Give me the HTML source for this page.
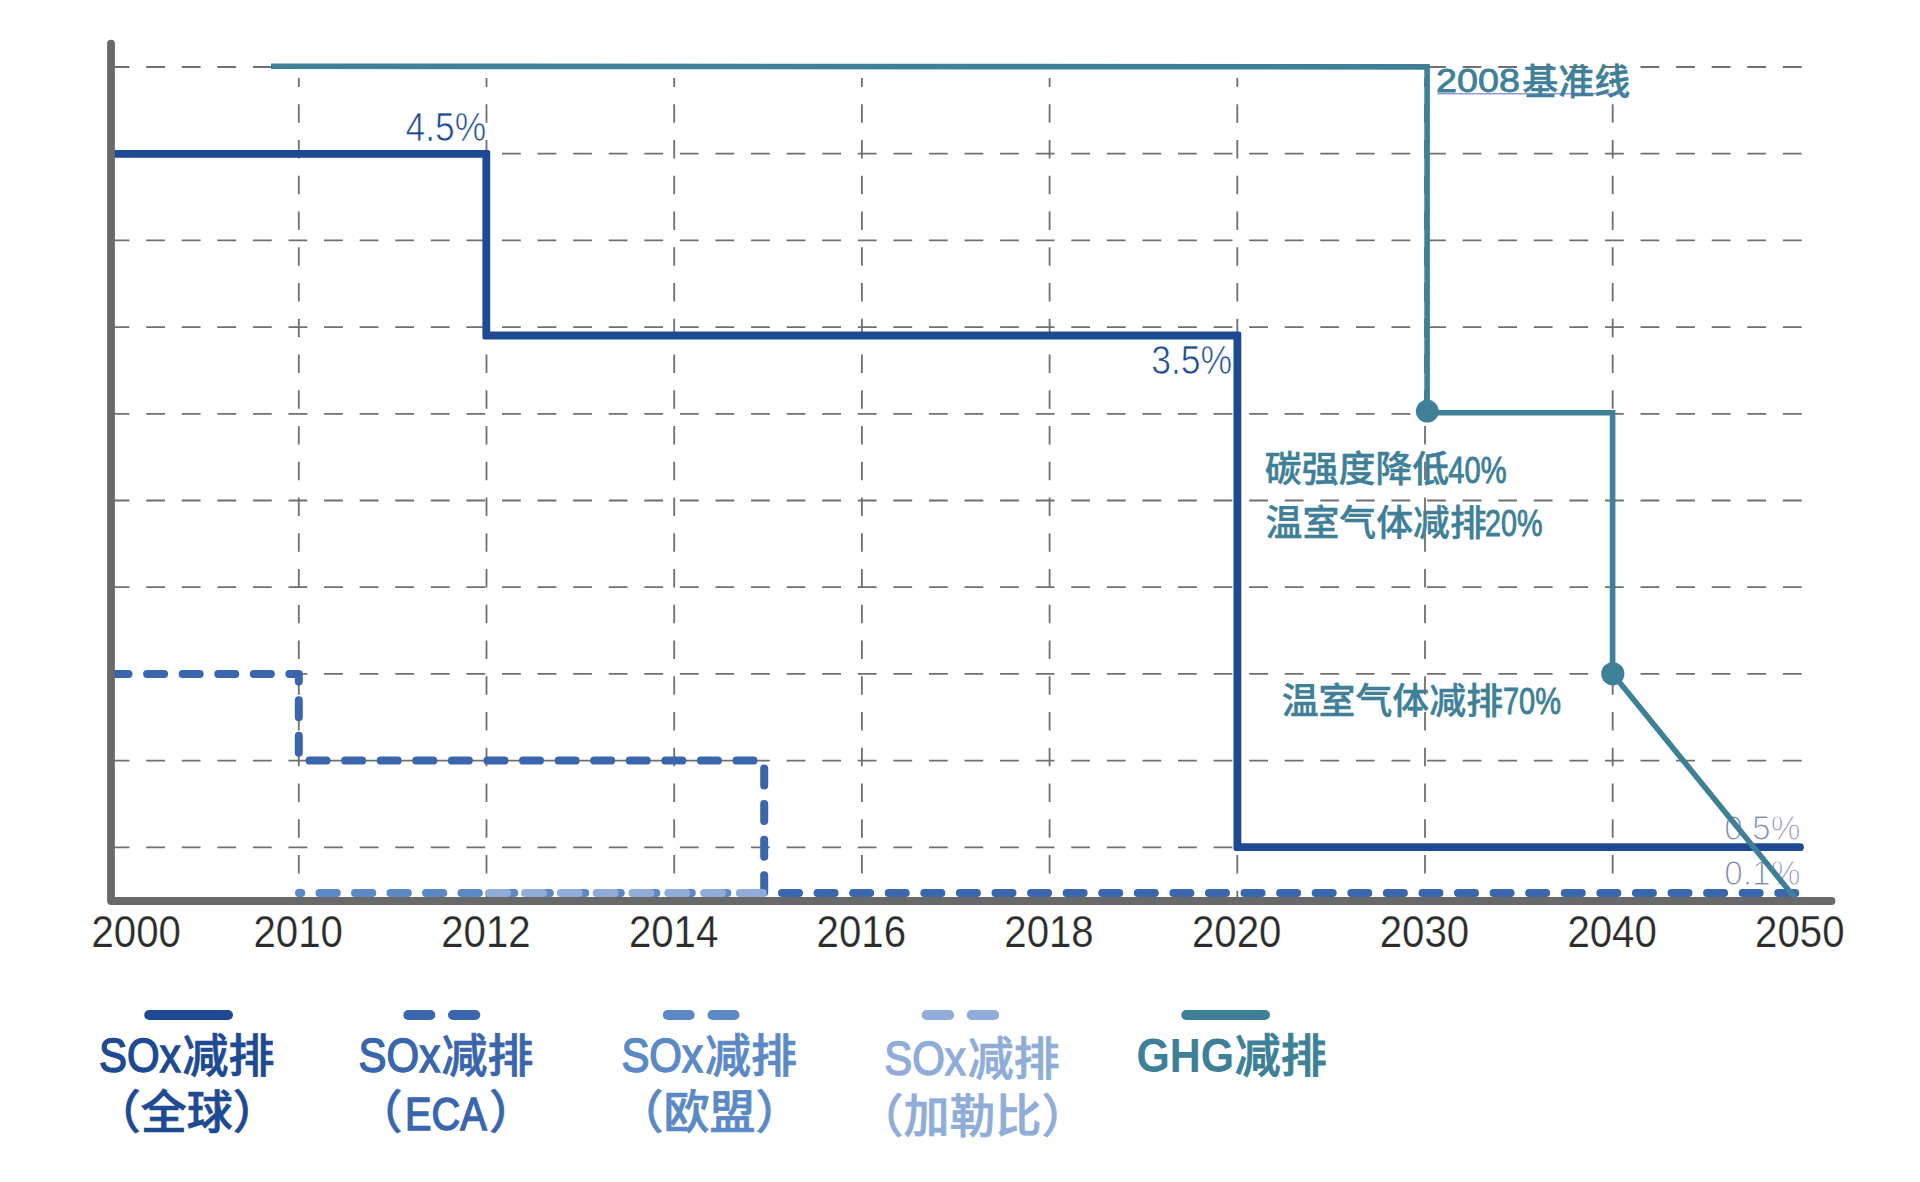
<!DOCTYPE html>
<html lang="zh-CN"><head><meta charset="utf-8"><title>SOx / GHG 减排路线</title>
<style>html,body{margin:0;padding:0;background:#fff;}body{width:1920px;height:1182px;overflow:hidden;position:relative;}svg{position:absolute;left:0;top:0;display:block;}text{font-family:"Liberation Sans","Noto Sans CJK SC",sans-serif;}.cjk{font-family:"Noto Sans CJK SC","Liberation Sans",sans-serif;font-weight:500;}</style></head><body>
<svg width="1920" height="1182" viewBox="0 0 1920 1182">
<rect width="1920" height="1182" fill="#fff"/>
<g fill="#7c8aad" stroke="#fff" stroke-width="1.1" font-size="34.5">
<text x="1724.2" y="840.3" textLength="76.2" lengthAdjust="spacingAndGlyphs">0.5%</text>
<text x="1724.2" y="885.3" textLength="76.2" lengthAdjust="spacingAndGlyphs">0.1%</text>
</g>
<g fill="#3e8097">
<text class="cjk" x="1264.8" y="482.4" font-size="36.9" stroke="#3e8097" stroke-width="0.4">碳强度降低</text>
<text x="1448.3" y="482.8" font-size="36.5" stroke="#3e8097" stroke-width="0.9" textLength="58.3" lengthAdjust="spacingAndGlyphs">40%</text>
<text class="cjk" x="1265.5" y="535.9" font-size="36.9" stroke="#3e8097" stroke-width="0.4">温室气体减排</text>
<text x="1485" y="536.3" font-size="36.5" stroke="#3e8097" stroke-width="0.9" textLength="57.5" lengthAdjust="spacingAndGlyphs">20%</text>
<text class="cjk" x="1281.7" y="713.7" font-size="36.9" stroke="#3e8097" stroke-width="0.4">温室气体减排</text>
<text x="1503" y="714.1" font-size="36.5" stroke="#3e8097" stroke-width="0.9" textLength="58" lengthAdjust="spacingAndGlyphs">70%</text>
</g>
<g stroke="#6f6f6f" stroke-width="1.8" fill="none">
<g stroke-dasharray="18.8 16.78">
<path d="M110.6 67.0H1801.8"/>
<path d="M110.6 153.7H1801.8"/>
<path d="M110.6 240.4H1801.8"/>
<path d="M110.6 327.1H1801.8"/>
<path d="M110.6 413.8H1801.8"/>
<path d="M110.6 500.5H1801.8"/>
<path d="M110.6 587.2H1801.8"/>
<path d="M110.6 673.9H1801.8"/>
<path d="M110.6 760.6H1801.8"/>
<path d="M110.6 847.3H1801.8"/>
</g><g stroke-dasharray="18.6 17.15" stroke-dashoffset="9.45">
<path d="M298.8 77.9V897"/>
<path d="M486.5 77.9V897"/>
<path d="M674.2 77.9V897"/>
<path d="M861.9 77.9V897"/>
<path d="M1049.6 77.9V897"/>
<path d="M1237.3 77.9V897"/>
<path d="M1425.0 77.9V897"/>
<path d="M1612.7 77.9V897"/>
</g></g>
<path d="M111.5 674H298.8V760.6H764.2V893H1800" stroke="#3a66ad" stroke-width="8" stroke-linecap="round" stroke-linejoin="round" stroke-dasharray="17 18.58" fill="none"/>
<path d="M764.2 893H299" stroke="#5b89c6" stroke-width="8" stroke-linecap="round" stroke-dasharray="17.3 18.2" stroke-dashoffset="-1.4" fill="none"/>
<path d="M489.3 893H763M750 893H762.7" stroke="#8fadd8" stroke-width="8" stroke-linecap="round" stroke-dasharray="17.8 18" fill="none"/>
<path d="M111 149.90H488.20A2.0 2.0 0 0 1 490.20 151.90V331.60H1239.30A2.0 2.0 0 0 1 1241.30 333.60V843.30H1800.0A3.9 3.9 0 0 1 1800.0 851.10H1235.50A2.0 2.0 0 0 1 1233.50 849.10V339.40H484.40A2.0 2.0 0 0 1 482.40 337.40V157.70H111Z" fill="#1d4a93"/>
<path d="M271 66.25L1427.1 66.9V412.8H1612.6V673.8L1795 898" stroke="#3e8097" stroke-width="5.6" stroke-linejoin="miter" fill="none"/>
<circle cx="1427.3" cy="411.2" r="11.4" fill="#3e8097"/><circle cx="1612.8" cy="673.8" r="11.6" fill="#3e8097"/>
<path d="M111 43.6V901H1831.5" stroke="#686968" stroke-width="7.8" stroke-linecap="round" stroke-linejoin="round" fill="none"/>
<g fill="#2b2b2b" font-size="44.3" stroke="#fff" stroke-width="0.25">
<text x="91.5" y="947.2" textLength="89.4" lengthAdjust="spacingAndGlyphs">2000</text>
<text x="253.5" y="947.2" textLength="89.4" lengthAdjust="spacingAndGlyphs">2010</text>
<text x="441.2" y="947.2" textLength="89.4" lengthAdjust="spacingAndGlyphs">2012</text>
<text x="628.9" y="947.2" textLength="89.4" lengthAdjust="spacingAndGlyphs">2014</text>
<text x="816.6" y="947.2" textLength="89.4" lengthAdjust="spacingAndGlyphs">2016</text>
<text x="1004.3" y="947.2" textLength="89.4" lengthAdjust="spacingAndGlyphs">2018</text>
<text x="1192.0" y="947.2" textLength="89.4" lengthAdjust="spacingAndGlyphs">2020</text>
<text x="1379.7" y="947.2" textLength="89.4" lengthAdjust="spacingAndGlyphs">2030</text>
<text x="1567.4" y="947.2" textLength="89.4" lengthAdjust="spacingAndGlyphs">2040</text>
<text x="1755.1" y="947.2" textLength="89.4" lengthAdjust="spacingAndGlyphs">2050</text>
</g>
<g fill="#1d4a93" font-size="40" stroke="#fff" stroke-width="0.7">
<text x="405.6" y="140.6" textLength="80.6" lengthAdjust="spacingAndGlyphs">4.5%</text>
<text x="1151.2" y="373.8" textLength="81" lengthAdjust="spacingAndGlyphs">3.5%</text>
</g>
<g fill="#3e8097">
<text x="1436" y="92" font-size="33.3" stroke="#3e8097" stroke-width="0.8" textLength="84" lengthAdjust="spacingAndGlyphs">2008</text>
<text class="cjk" x="1522.2" y="94.6" font-size="36" stroke="#3e8097" stroke-width="0.4">基准线</text>
<path d="M1437.5 93.8H1629.2" stroke="#5870b4" stroke-width="1" fill="none"/>
</g>
<g fill="#1d4a93" stroke="#1d4a93">
<path d="M149.2 1015H228" stroke-width="10" stroke-linecap="round" fill="none"/>
<text x="99.1" y="1071.5" font-size="47.5" stroke-width="1.5" textLength="81.6" lengthAdjust="spacingAndGlyphs">SOx</text>
<text class="cjk" x="182.4" y="1071.6" font-size="46" stroke-width="0.7">减排</text>
<text class="cjk" x="94.7" y="1128.3" font-size="46" stroke-width="0.7">（全球）</text>
</g>
<g fill="#3a66ad" stroke="#3a66ad">
<path d="M408.3 1015H430.3" stroke-width="10" stroke-linecap="round" fill="none"/>
<path d="M453 1015H475.3" stroke-width="10" stroke-linecap="round" fill="none"/>
<text x="358.6" y="1071.5" font-size="47.5" stroke-width="1.5" textLength="81.6" lengthAdjust="spacingAndGlyphs">SOx</text>
<text class="cjk" x="441.6" y="1071.6" font-size="46" stroke-width="0.7">减排</text>
<text class="cjk" x="356.5" y="1128.3" font-size="46" stroke-width="0.7">（</text>
<text x="405.1" y="1130" font-size="46.5" stroke-width="1.5" textLength="81.6" lengthAdjust="spacingAndGlyphs">ECA</text>
<text class="cjk" x="489.0" y="1128.3" font-size="46" stroke-width="0.7">）</text>
</g>
<g fill="#5b89c6" stroke="#5b89c6">
<path d="M667.8 1015H689.7" stroke-width="10" stroke-linecap="round" fill="none"/>
<path d="M712.5 1015H734.5" stroke-width="10" stroke-linecap="round" fill="none"/>
<text x="621.4" y="1071.5" font-size="47.5" stroke-width="1.5" textLength="81.6" lengthAdjust="spacingAndGlyphs">SOx</text>
<text class="cjk" x="705.0" y="1071.6" font-size="46" stroke-width="0.7">减排</text>
<text class="cjk" x="617.5" y="1128.3" font-size="46" stroke-width="0.7">（欧盟）</text>
</g>
<g fill="#8fadd8" stroke="#8fadd8">
<path d="M926.7 1015H949.2" stroke-width="10" stroke-linecap="round" fill="none"/>
<path d="M971.7 1015H994.2" stroke-width="10" stroke-linecap="round" fill="none"/>
<text x="884.2" y="1075.2" font-size="47.5" stroke-width="1.5" textLength="81.6" lengthAdjust="spacingAndGlyphs">SOx</text>
<text class="cjk" x="967.8" y="1075.3" font-size="46" stroke-width="0.7">减排</text>
<text class="cjk" x="857.5" y="1132.0" font-size="46" stroke-width="0.7">（加勒比）</text>
</g>
<g fill="#3e8097" stroke="#3e8097">
<path d="M1186.2 1015H1265" stroke-width="10" stroke-linecap="round" fill="none"/>
<text x="1136.4" y="1071.5" font-size="47.5" font-weight="bold" stroke-width="0" textLength="97.6" lengthAdjust="spacingAndGlyphs">GHG</text>
<text class="cjk" x="1234.8" y="1071.6" font-size="46" stroke-width="0.9">减排</text>
</g>
</svg></body></html>
